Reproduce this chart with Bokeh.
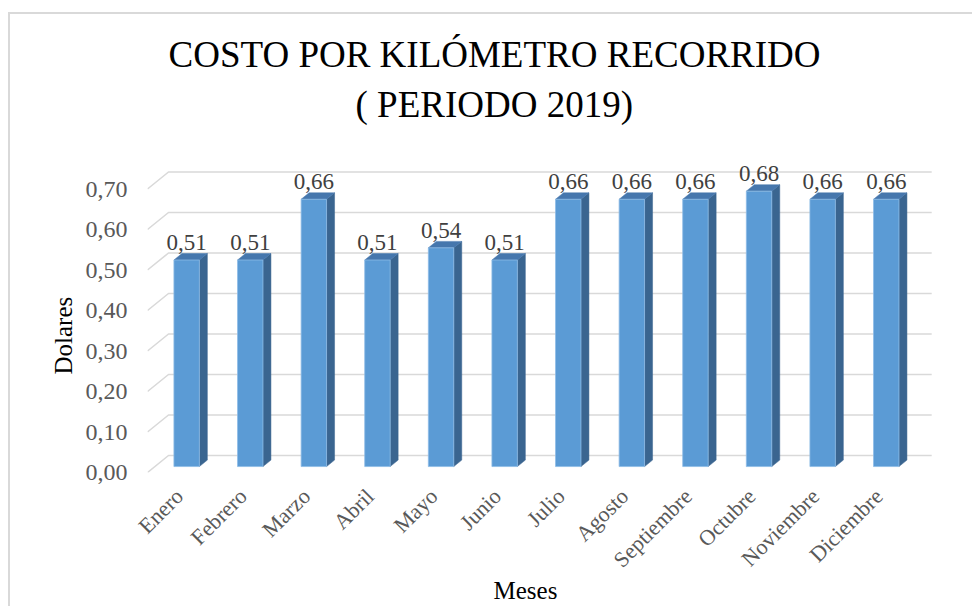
import math
import numpy as np
from bokeh.plotting import figure
from bokeh.models import Range1d, FixedTicker, CustomJSTickFormatter, Title, ColumnDataSource
from bokeh.core.properties import value
from bokeh.embed import file_html
from bokeh.resources import INLINE

# ---- data ----
months = ["Enero", "Febrero", "Marzo", "Abril", "Mayo", "Junio",
          "Julio", "Agosto", "Septiembre", "Octubre", "Noviembre", "Diciembre"]
costs = [0.51, 0.51, 0.66, 0.51, 0.54, 0.51, 0.66, 0.66, 0.66, 0.68, 0.66, 0.66]
y_ticks = [0.0, 0.1, 0.2, 0.3, 0.4, 0.5, 0.6, 0.7]
title_lines = ["COSTO POR KILÓMETRO RECORRIDO", "( PERIODO 2019)"]
x_title = "Meses"
y_title = "Dolares"

# ---- canvas / projection settings ----
W, H = 964, 594                 # canvas size
FL, FR, FT, FB = 137, 925, 126, 458   # plot frame edges in canvas pixels
STEP = 63.6                     # pixels per category
PPU = 405.0                     # pixels per dollar
DX = 21.0 / STEP                # depth offset of the back wall (x units)
DY = 17.0 / PPU                 # depth offset of the back wall (y units)
D_FRONT, D_BACK = 0.35, 0.73    # bar depth inside the floor
HALF_W = 0.20                   # half bar width (x units)

FONT = "Liberation Serif"
TITLE_FONT = "Times New Roman"

p = figure(width=W, height=H, output_backend="svg", toolbar_location=None,
           x_range=Range1d(-0.5, -0.5 + (FR - FL) / STEP),
           y_range=Range1d(0, (FB - FT) / PPU),
           min_border_left=FL, min_border_right=W - FR,
           min_border_top=FT, min_border_bottom=H - FB)
p.outline_line_color = None
p.xgrid.visible = False
p.ygrid.visible = False
p.background_fill_color = "white"
p.border_fill_color = "white"
p.styles = {"border-left": "2px solid #d9d9d9", "border-top": "2px solid #d9d9d9",
            "margin-left": "8px", "margin-top": "12px"}

# ---- back wall gridlines with their slanted floor edge ----
x_back_end = len(months) - 0.5 + DX
grid_xs = [[-0.5, -0.5 + DX, x_back_end] for _ in y_ticks]
grid_ys = [[v, v + DY, v + DY] for v in y_ticks]
p.multi_line(grid_xs, grid_ys, line_color="#d9d9d9", line_width=1.6)

# ---- 3D bars ----
xs = np.arange(len(months), dtype=float)
vals = np.array(costs)
left = xs - HALF_W + D_FRONT * DX
right = xs + HALF_W + D_FRONT * DX
bottom = np.full_like(vals, D_FRONT * DY)
top = vals + D_FRONT * DY
ddx = (D_BACK - D_FRONT) * DX
ddy = (D_BACK - D_FRONT) * DY

side_xs = [[r, r + ddx, r + ddx, r] for r in right]
side_ys = [[b, b + ddy, t + ddy, t] for b, t in zip(bottom, top)]
top_xs = [[l, l + ddx, r + ddx, r] for l, r in zip(left, right)]
top_ys = [[t, t + ddy, t + ddy, t] for t in top]

p.patches(side_xs, side_ys, fill_color="#3a6590", line_color="#3a6590", line_width=0.5)
p.patches(top_xs, top_ys, fill_color="#4677ad", line_color="#4677ad", line_width=0.5)
p.quad(left=left, right=right, bottom=bottom, top=top,
       fill_color="#5b9bd5", line_color="#8dbbe6", line_width=0.8)

# ---- value labels ----
lab_src = ColumnDataSource(dict(
    x=(left + right) / 2,
    y=top + ddy + 11.0 / PPU,
    text=[f"{v:.2f}".replace(".", ",") for v in costs],
))
p.text(x="x", y="y", text="text", source=lab_src, text_font=value(FONT),
       text_font_size="23px", text_color="#404040",
       text_align="center", text_baseline="alphabetic")

# ---- axes ----
p.xaxis.ticker = FixedTicker(ticks=list(range(len(months))))
p.xaxis.major_label_overrides = {i: m for i, m in enumerate(months)}
p.xaxis.major_label_orientation = math.pi / 4
p.yaxis.ticker = FixedTicker(ticks=y_ticks)
p.yaxis.formatter = CustomJSTickFormatter(code="return tick.toFixed(2).replace('.', ',')")
for ax in (p.xaxis, p.yaxis):
    ax.axis_line_color = None
    ax.major_tick_line_color = None
    ax.minor_tick_line_color = None
    ax.major_tick_out = 0
    ax.major_tick_in = 0
    ax.major_label_text_font = FONT
    ax.major_label_text_color = "#595959"
p.xaxis.major_label_text_font_size = "22px"
p.yaxis.major_label_text_font_size = "24px"
p.xaxis.major_label_standoff = 20
p.yaxis.major_label_standoff = 20

# ---- titles ----
def make_title(text, size, standoff, offset, valign="bottom"):
    return Title(text=text, align="left", vertical_align=valign,
                 text_font=TITLE_FONT, text_font_size=size,
                 text_font_style="normal", text_color="#000000",
                 standoff=standoff, offset=offset)

# the lower title line goes in first so that it sits next to the frame
p.add_layout(make_title(title_lines[1], "37px", 31, 208), "above")
p.add_layout(make_title(title_lines[0], "37px", -16, 21), "above")
p.add_layout(make_title(y_title, "25px", 12, 98), "left")
p.add_layout(make_title(x_title, "25px", -16, 346, valign="top"), "below")

open("out.html", "w").write(file_html(p, INLINE))
